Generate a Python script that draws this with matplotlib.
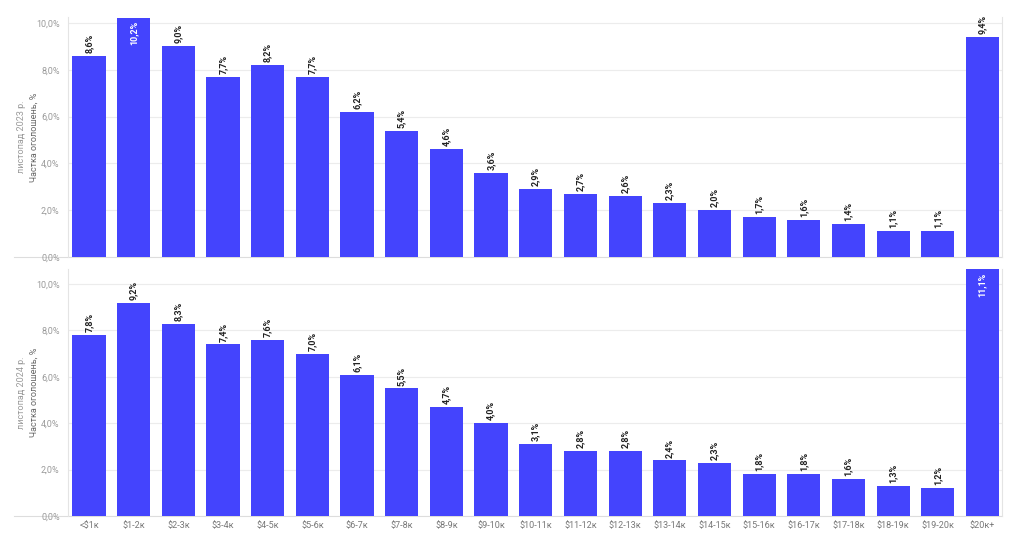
import matplotlib as mpl
mpl.use('Agg')
import matplotlib.pyplot as plt

cats = ['<$1к', '$1-2к', '$2-3к', '$3-4к', '$4-5к', '$5-6к', '$6-7к', '$7-8к',
        '$8-9к', '$9-10к', '$10-11к', '$11-12к', '$12-13к', '$13-14к', '$14-15к',
        '$15-16к', '$16-17к', '$17-18к', '$18-19к', '$19-20к', '$20к+']
nov2023 = [8.6, 10.2, 9.0, 7.7, 8.2, 7.7, 6.2, 5.4, 4.6, 3.6, 2.9, 2.7, 2.6,
           2.3, 2.0, 1.7, 1.6, 1.4, 1.1, 1.1, 9.4]
nov2024 = [7.8, 9.2, 8.3, 7.4, 7.6, 7.0, 6.1, 5.5, 4.7, 4.0, 3.1, 2.8, 2.8,
           2.4, 2.3, 1.8, 1.8, 1.6, 1.3, 1.2, 11.1]
yticks = [0, 2, 4, 6, 8, 10]

plt.rcParams['font.family'] = ['Roboto', 'DejaVu Sans']
blue = '#4444fd'
grey = '#9a9a9a'

fig = plt.figure(figsize=(10.24, 5.35), dpi=100)
ax1 = fig.add_axes([0.0664, 0.5196, 0.9126, 0.4486])
ax2 = fig.add_axes([0.0664, 0.0355, 0.9126, 0.4617])


def draw(ax, vals, ytop, period, show_x):
    x = list(range(len(vals)))
    ax.bar(x, vals, width=0.74, color=blue, zorder=2)
    ax.set_xlim(-0.47, len(vals) - 0.55)
    ax.set_ylim(0, ytop)
    ax.set_yticks(yticks)
    ax.yaxis.set_major_formatter(mpl.ticker.FuncFormatter(
        lambda v, p: ('%.1f%%' % v).replace('.', ',')))
    ax.tick_params(axis='y', length=0, labelsize=6.5, labelcolor=grey, pad=6)
    ax.grid(axis='y', color='#ececec', linewidth=0.8, zorder=0)
    for s in ['top', 'bottom']:
        ax.spines[s].set_visible(False)
    for s in ['left', 'right']:
        ax.spines[s].set_color('#e4e4e4')
        ax.spines[s].set_linewidth(0.8)
    # baseline runs a bit past the left edge, under the tick labels
    ax.plot([-0.058, 1], [0, 0], transform=ax.get_yaxis_transform(),
            color='#dddddd', linewidth=0.8, zorder=1, clip_on=False)
    if show_x:
        ax.set_xticks(x)
        ax.set_xticklabels(cats)
        ax.tick_params(axis='x', length=0, labelsize=6.5, labelcolor='#777777', pad=4)
    else:
        ax.set_xticks([])
    for xi, v in zip(x, vals):
        txt = ('%.1f%%' % v).replace('.', ',')
        if v > ytop - 0.3:
            ax.text(xi, ytop - 0.15, txt, rotation=90, ha='center', va='top',
                    fontsize=6.5, fontweight='bold', color='white', zorder=3)
        else:
            ax.text(xi, v + 0.12, txt, rotation=90, ha='center', va='bottom',
                    fontsize=6.5, fontweight='bold', color='#222222', zorder=3)
    ax.text(-0.05, 0.5, period, transform=ax.transAxes, rotation=90,
            ha='center', va='center', fontsize=6.5, color=grey)
    ax.text(-0.036, 0.5, 'Частка оголошень, %', transform=ax.transAxes,
            rotation=90, ha='center', va='center', fontsize=6.5, color='#666666')


draw(ax1, nov2023, 10.25, 'листопад 2023 р.', False)
draw(ax2, nov2024, 10.65, 'листопад 2024 р.', True)

fig.savefig('out.png', dpi=100, facecolor='white')
